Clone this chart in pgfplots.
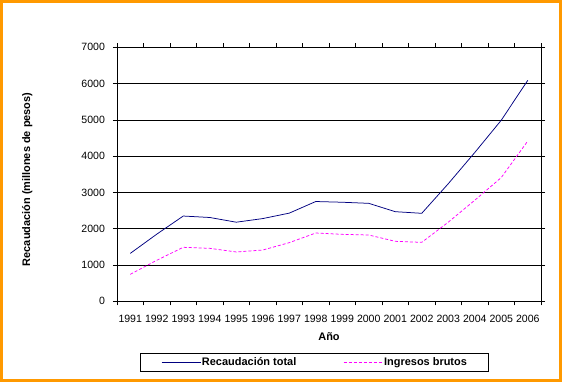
\documentclass[border=0pt]{standalone}
\usepackage{pgfplots}
\pgfplotsset{compat=1.18}
\usepackage{fontspec}
\setmainfont{Liberation Sans}
\definecolor{frameorange}{RGB}{255,153,0}
\definecolor{navyline}{RGB}{0,0,128}
\definecolor{magline}{RGB}{255,0,255}
\begin{document}
\begin{tikzpicture}
\path[use as bounding box] (0bp,0bp) rectangle (562bp,-382bp);
\draw[frameorange, line width=3bp] (1.5bp,-1.5bp) rectangle (560.5bp,-380.5bp);
\begin{axis}[
  at={(117bp,-301.3bp)}, anchor=south west,
  scale only axis, width=424bp, height=254bp,
  xmin=0.5, xmax=16.5, ymin=0, ymax=7000,
  xtick={1,...,16},
  xticklabels={1991,1992,1993,1994,1995,1996,1997,1998,1999,2000,2001,2002,2003,2004,2005,2006},
  minor xtick={0.5,1.5,...,16.5},
  ytick={0,1000,...,7000},
  ymajorgrids,
  grid style={black, line width=0.75bp},
  axis line style={black, line width=0.75bp},
  tick align=outside,
  major tick length=4bp,
  minor tick length=4bp,
  major x tick style={draw=none},
  minor x tick style={black, line width=0.75bp},
  major y tick style={black, line width=0.75bp},
  tick label style={font=\fontsize{10.6}{12}\selectfont},
  xticklabel style={yshift=-6bp},
  yticklabel style={xshift=-4.5bp},
  /pgf/number format/assume math mode=true,
  /pgf/number format/1000 sep={},
  xlabel={Año},
  ylabel={Recaudación (millones de pesos)},
  xlabel style={font=\bfseries\fontsize{11}{13}\selectfont, at={(axis description cs:0.5,-0.1406)}, anchor=center},
  ylabel style={font=\bfseries\fontsize{11}{13}\selectfont, at={(axis description cs:-0.2118,0.48)}, anchor=center},
  legend columns=2,
  legend image code/.code={\draw[#1] (0bp,0bp) -- (39bp,0bp);},
  legend style={at={(axis description cs:0.466,-0.240)}, anchor=center,
    draw=black, line width=1bp, inner xsep=21bp, inner ysep=2.5bp,
    font=\bfseries\fontsize{11}{13}\selectfont,
    nodes={inner xsep=1bp},
    /tikz/every even column/.append style={column sep=46bp}},
]
\addplot[navyline, line width=0.75bp] coordinates {
(1,1320) (2,1850) (3,2350) (4,2310) (5,2180) (6,2280) (7,2430) (8,2750)
(9,2730) (10,2700) (11,2470) (12,2425) (13,3240) (14,4100) (15,4990) (16,6090)};
\addlegendentry{Recaudación total}
\addplot[magline, line width=0.75bp, dash pattern=on 3bp off 2bp] coordinates {
(1,743) (2,1130) (3,1488) (4,1460) (5,1360) (6,1413) (7,1616) (8,1882)
(9,1845) (10,1827) (11,1653) (12,1625) (13,2180) (14,2785) (15,3410) (16,4417)};
\addlegendentry{Ingresos brutos}
\end{axis}
\end{tikzpicture}
\end{document}
